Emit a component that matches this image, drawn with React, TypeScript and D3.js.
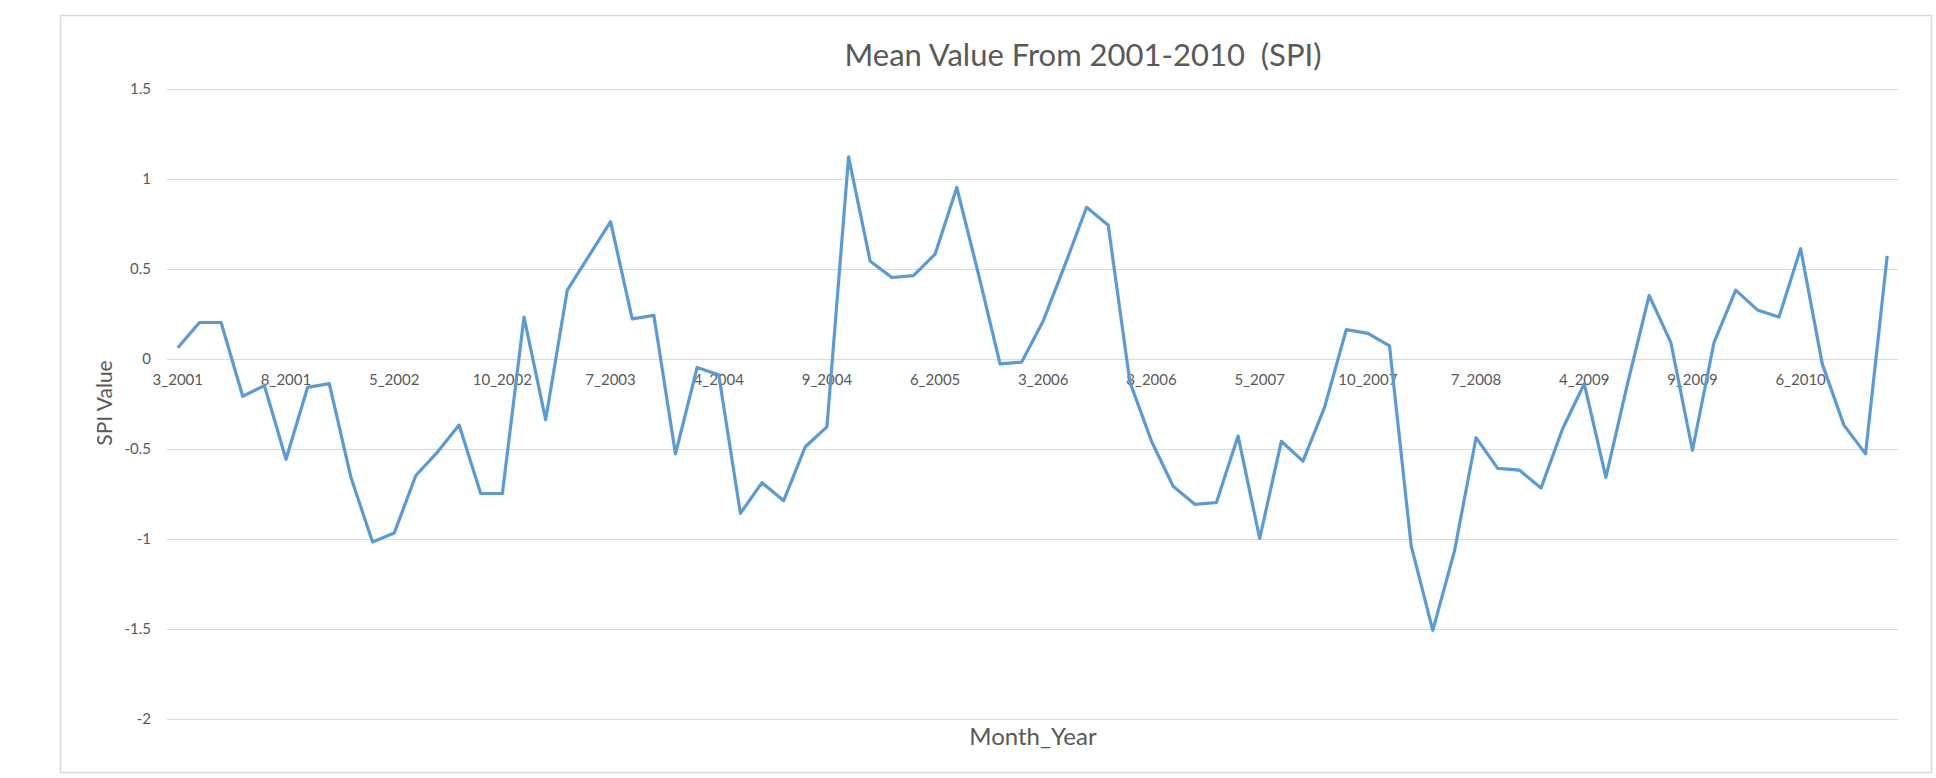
import * as d3 from 'd3'

// months 3..10 of each year, 2001-2010
const years = [2001, 2002, 2003, 2004, 2005, 2006, 2007, 2008, 2009, 2010]
const months = [3, 4, 5, 6, 7, 8, 9, 10]
const categories = years.flatMap(y => months.map(m => `${m}_${y}`))

const spiValues = [
  0.06, 0.2, 0.2, -0.21, -0.15, -0.56, -0.16, -0.14,
  -0.66, -1.02, -0.97, -0.65, -0.52, -0.37, -0.75, -0.75,
  0.23, -0.34, 0.38, 0.57, 0.76, 0.22, 0.24, -0.53,
  -0.05, -0.09, -0.86, -0.69, -0.79, -0.49, -0.38, 1.12,
  0.54, 0.45, 0.46, 0.58, 0.95, 0.47, -0.03, -0.02,
  0.21, 0.52, 0.84, 0.74, -0.13, -0.46, -0.71, -0.81,
  -0.8, -0.43, -1.0, -0.46, -0.57, -0.27, 0.16, 0.14,
  0.07, -1.04, -1.51, -1.07, -0.44, -0.61, -0.62, -0.72,
  -0.39, -0.14, -0.66, -0.14, 0.35, 0.09, -0.51, 0.09,
  0.38, 0.27, 0.23, 0.61, -0.03, -0.37, -0.53, 0.57,
]

const yTicks = [-2, -1.5, -1, -0.5, 0, 0.5, 1, 1.5]

const title = 'Mean Value From 2001-2010  (SPI)'
const xTitle = 'Month_Year'
const yTitle = 'SPI Value'

const W = 1936
const H = 778
const font = 'Lato, "Open Sans", sans-serif'
const textColor = '#595959'

export default function App() {
  const x = d3.scaleBand<string>().domain(categories).range([167, 1898]).padding(0)
  const y = d3.scaleLinear().domain([-2, 1.5]).range([718.5, 88.5])
  const cx = (c: string) => (x(c) ?? 0) + x.bandwidth() / 2

  const line = d3.line<number>()
    .x((_, i) => cx(categories[i]))
    .y(d => y(d))

  return (
    <svg width={W} height={H} style={{ position: 'absolute', left: 0, top: 0, background: '#fff' }}>
      <rect x={60.5} y={15.5} width={1871} height={757} fill="#fff" stroke="#d9d9d9" strokeWidth={1.5} />

      {yTicks.map(t => (
        <g key={t}>
          <line x1={167} x2={1898} y1={Math.round(y(t)) + 0.5} y2={Math.round(y(t)) + 0.5} stroke="#d9d9d9" strokeWidth={1} />
          <text x={151} y={y(t)} dy="0.35em" textAnchor="end" fontFamily={font} fontSize={15} fill={textColor}>
            {t}
          </text>
        </g>
      ))}

      {categories.map((c, i) =>
        i % 5 === 0 ? (
          <text key={c} x={cx(c)} y={380} dy="0.35em" textAnchor="middle" fontFamily={font} fontSize={15} fill={textColor}>
            {c}
          </text>
        ) : null
      )}

      <path d={line(spiValues) ?? ''} fill="none" stroke="#5b9bd5" strokeWidth={3.2} strokeLinejoin="round" />

      <text x={1083} y={66} textAnchor="middle" fontFamily={font} fontSize={31} fill={textColor} style={{ whiteSpace: 'pre' }}>
        {title}
      </text>
      <text x={1033} y={745} textAnchor="middle" fontFamily={font} fontSize={24} fill={textColor}>
        {xTitle}
      </text>
      <text transform={`translate(112, 403) rotate(-90)`} textAnchor="middle" fontFamily={font} fontSize={21} fill={textColor}>
        {yTitle}
      </text>
    </svg>
  )
}
